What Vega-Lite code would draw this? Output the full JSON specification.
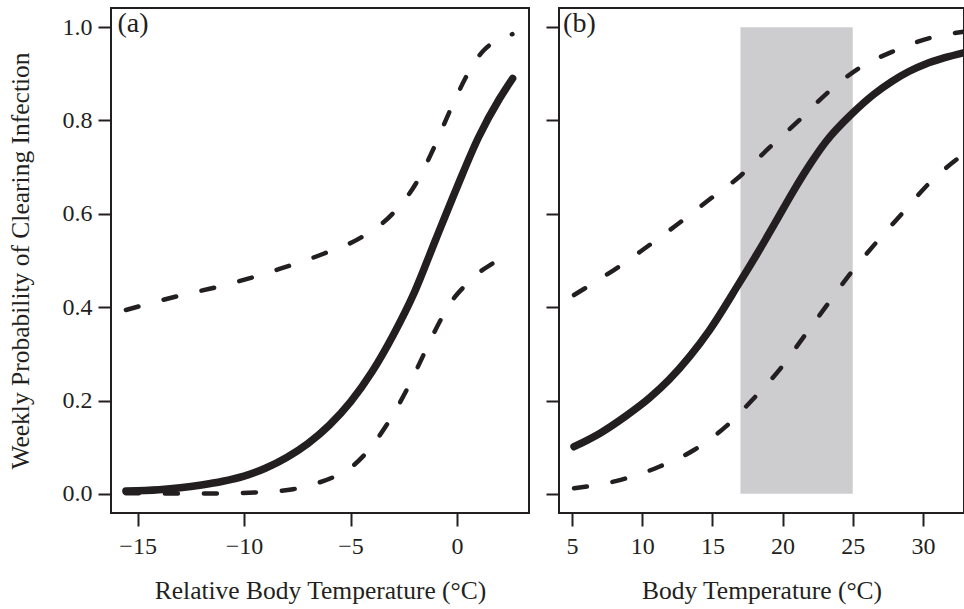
{
  "$schema": "https://vega.github.io/schema/vega-lite/v6.json",
  "background": "white",
  "padding": {"left": 7, "top": 7, "right": 0, "bottom": 0},
  "config": {
    "font": "Liberation Serif",
    "view": {"stroke": "#231f20", "strokeWidth": 2},
    "axis": {
      "domain": false,
      "grid": false,
      "tickSize": 13,
      "tickWidth": 2,
      "tickColor": "#231f20",
      "labelFont": "Liberation Serif",
      "labelFontSize": 24,
      "labelColor": "#231f20",
      "titleFont": "Liberation Serif",
      "titleFontSize": 25.5,
      "titleFontWeight": "normal",
      "titleColor": "#231f20"
    }
  },
  "datasets": {
    "curves": [
      {"panel": "a", "series": "fit", "x": -15.55, "y": 0.006},
      {"panel": "a", "series": "fit", "x": -14, "y": 0.009},
      {"panel": "a", "series": "fit", "x": -13, "y": 0.013},
      {"panel": "a", "series": "fit", "x": -12, "y": 0.019},
      {"panel": "a", "series": "fit", "x": -11, "y": 0.027},
      {"panel": "a", "series": "fit", "x": -10, "y": 0.038},
      {"panel": "a", "series": "fit", "x": -9, "y": 0.055},
      {"panel": "a", "series": "fit", "x": -8, "y": 0.078},
      {"panel": "a", "series": "fit", "x": -7, "y": 0.108},
      {"panel": "a", "series": "fit", "x": -6, "y": 0.147},
      {"panel": "a", "series": "fit", "x": -5, "y": 0.197},
      {"panel": "a", "series": "fit", "x": -4, "y": 0.261},
      {"panel": "a", "series": "fit", "x": -3, "y": 0.34},
      {"panel": "a", "series": "fit", "x": -2, "y": 0.432},
      {"panel": "a", "series": "fit", "x": -1, "y": 0.545},
      {"panel": "a", "series": "fit", "x": 0, "y": 0.657},
      {"panel": "a", "series": "fit", "x": 1, "y": 0.763},
      {"panel": "a", "series": "fit", "x": 2, "y": 0.847},
      {"panel": "a", "series": "fit", "x": 2.61, "y": 0.89},

      {"panel": "a", "series": "upper", "x": -15.55, "y": 0.394},
      {"panel": "a", "series": "upper", "x": -13, "y": 0.425},
      {"panel": "a", "series": "upper", "x": -11.1, "y": 0.445},
      {"panel": "a", "series": "upper", "x": -8.4, "y": 0.481},
      {"panel": "a", "series": "upper", "x": -6.24, "y": 0.515},
      {"panel": "a", "series": "upper", "x": -4.52, "y": 0.549},
      {"panel": "a", "series": "upper", "x": -3.03, "y": 0.6},
      {"panel": "a", "series": "upper", "x": -1.93, "y": 0.665},
      {"panel": "a", "series": "upper", "x": -1.08, "y": 0.742},
      {"panel": "a", "series": "upper", "x": -0.34, "y": 0.82},
      {"panel": "a", "series": "upper", "x": 0.41, "y": 0.892},
      {"panel": "a", "series": "upper", "x": 0.85, "y": 0.927},
      {"panel": "a", "series": "upper", "x": 1.27, "y": 0.951},
      {"panel": "a", "series": "upper", "x": 1.9, "y": 0.972},
      {"panel": "a", "series": "upper", "x": 2.6, "y": 0.985},

      {"panel": "a", "series": "lower", "x": -15.55, "y": 0.0015},
      {"panel": "a", "series": "lower", "x": -13.5, "y": 0.001},
      {"panel": "a", "series": "lower", "x": -11.5, "y": 0.001},
      {"panel": "a", "series": "lower", "x": -9.5, "y": 0.003},
      {"panel": "a", "series": "lower", "x": -7.7, "y": 0.01},
      {"panel": "a", "series": "lower", "x": -6.8, "y": 0.02},
      {"panel": "a", "series": "lower", "x": -5.9, "y": 0.034},
      {"panel": "a", "series": "lower", "x": -5, "y": 0.056},
      {"panel": "a", "series": "lower", "x": -4.36, "y": 0.083},
      {"panel": "a", "series": "lower", "x": -3.3, "y": 0.148},
      {"panel": "a", "series": "lower", "x": -2.36, "y": 0.223},
      {"panel": "a", "series": "lower", "x": -1.54, "y": 0.301},
      {"panel": "a", "series": "lower", "x": -0.73, "y": 0.376},
      {"panel": "a", "series": "lower", "x": -0.2, "y": 0.416},
      {"panel": "a", "series": "lower", "x": 0.33, "y": 0.444},
      {"panel": "a", "series": "lower", "x": 1.0, "y": 0.473},
      {"panel": "a", "series": "lower", "x": 1.79, "y": 0.497},
      {"panel": "a", "series": "lower", "x": 2.6, "y": 0.52},

      {"panel": "b", "series": "fit", "x": 5.14, "y": 0.101},
      {"panel": "b", "series": "fit", "x": 7, "y": 0.13},
      {"panel": "b", "series": "fit", "x": 8.8, "y": 0.166},
      {"panel": "b", "series": "fit", "x": 10.5, "y": 0.205},
      {"panel": "b", "series": "fit", "x": 11.9, "y": 0.244},
      {"panel": "b", "series": "fit", "x": 13.4, "y": 0.295},
      {"panel": "b", "series": "fit", "x": 14.8, "y": 0.351},
      {"panel": "b", "series": "fit", "x": 16.9, "y": 0.451},
      {"panel": "b", "series": "fit", "x": 18.2, "y": 0.515},
      {"panel": "b", "series": "fit", "x": 19.5, "y": 0.582},
      {"panel": "b", "series": "fit", "x": 20.7, "y": 0.645},
      {"panel": "b", "series": "fit", "x": 22, "y": 0.708},
      {"panel": "b", "series": "fit", "x": 23.1, "y": 0.755},
      {"panel": "b", "series": "fit", "x": 25, "y": 0.816},
      {"panel": "b", "series": "fit", "x": 26.5, "y": 0.856},
      {"panel": "b", "series": "fit", "x": 27.8, "y": 0.884},
      {"panel": "b", "series": "fit", "x": 29, "y": 0.905},
      {"panel": "b", "series": "fit", "x": 30.2, "y": 0.921},
      {"panel": "b", "series": "fit", "x": 31.5, "y": 0.934},
      {"panel": "b", "series": "fit", "x": 32.9, "y": 0.945},

      {"panel": "b", "series": "upper", "x": 5.14, "y": 0.426},
      {"panel": "b", "series": "upper", "x": 6.7, "y": 0.455},
      {"panel": "b", "series": "upper", "x": 8.35, "y": 0.487},
      {"panel": "b", "series": "upper", "x": 10, "y": 0.522},
      {"panel": "b", "series": "upper", "x": 12.4, "y": 0.575},
      {"panel": "b", "series": "upper", "x": 14.76, "y": 0.63},
      {"panel": "b", "series": "upper", "x": 16.9, "y": 0.679},
      {"panel": "b", "series": "upper", "x": 19, "y": 0.74},
      {"panel": "b", "series": "upper", "x": 21.17, "y": 0.8},
      {"panel": "b", "series": "upper", "x": 23.3, "y": 0.862},
      {"panel": "b", "series": "upper", "x": 25.44, "y": 0.912},
      {"panel": "b", "series": "upper", "x": 27.8, "y": 0.947},
      {"panel": "b", "series": "upper", "x": 30.66, "y": 0.978},
      {"panel": "b", "series": "upper", "x": 32.9, "y": 0.99},

      {"panel": "b", "series": "lower", "x": 5.14, "y": 0.012},
      {"panel": "b", "series": "lower", "x": 8.47, "y": 0.03},
      {"panel": "b", "series": "lower", "x": 11.2, "y": 0.058},
      {"panel": "b", "series": "lower", "x": 13.69, "y": 0.094},
      {"panel": "b", "series": "lower", "x": 15.95, "y": 0.144},
      {"panel": "b", "series": "lower", "x": 17.96, "y": 0.205},
      {"panel": "b", "series": "lower", "x": 19.86, "y": 0.269},
      {"panel": "b", "series": "lower", "x": 21.52, "y": 0.337},
      {"panel": "b", "series": "lower", "x": 23.18, "y": 0.405},
      {"panel": "b", "series": "lower", "x": 24.85, "y": 0.473},
      {"panel": "b", "series": "lower", "x": 26.63, "y": 0.537},
      {"panel": "b", "series": "lower", "x": 28.53, "y": 0.601},
      {"panel": "b", "series": "lower", "x": 30.43, "y": 0.665},
      {"panel": "b", "series": "lower", "x": 32.9, "y": 0.728}
    ],
    "band": [{"x": 17, "x2": 25, "y": 0, "y2": 1}],
    "labels": [
      {"panel": "a", "x": -15.95, "y": 1.036, "text": "(a)"},
      {"panel": "b", "x": 4.36, "y": 1.036, "text": "(b)"}
    ]
  },
  "bounds": "flush",
  "spacing": 30,
  "hconcat": [
    {
      "width": 418,
      "height": 505,
      "layer": [
        {
          "data": {"name": "curves"},
          "transform": [{"filter": "datum.panel === 'a' && datum.series !== 'fit'"}],
          "mark": {"type": "line", "color": "#231f20", "strokeWidth": 4.5, "strokeDash": [13, 26], "strokeCap": "round", "interpolate": "monotone", "clip": true},
          "encoding": {
            "x": {"field": "x", "type": "quantitative", "scale": {"domain": [-16.25, 3.38], "nice": false, "zero": false},
                  "axis": {"values": [-15, -10, -5, 0], "title": "Relative Body Temperature (°C)", "labelPadding": 8, "titlePadding": 20}},
            "y": {"field": "y", "type": "quantitative", "scale": {"domain": [-0.041, 1.041], "nice": false, "zero": false},
                  "axis": {"values": [0, 0.2, 0.4, 0.6, 0.8, 1.0], "format": ".1f", "title": "Weekly Probability of Clearing Infection", "labelPadding": 6, "titlePadding": 28.5}},
            "detail": {"field": "series"},
            "order": {"field": "x", "type": "quantitative"}
          }
        },
        {
          "data": {"name": "curves"},
          "transform": [{"filter": "datum.panel === 'a' && datum.series === 'fit'"}],
          "mark": {"type": "line", "color": "#231f20", "strokeWidth": 7.5, "strokeCap": "round", "interpolate": "monotone", "clip": true},
          "encoding": {
            "x": {"field": "x", "type": "quantitative"},
            "y": {"field": "y", "type": "quantitative"},
            "order": {"field": "x", "type": "quantitative"}
          }
        },
        {
          "data": {"name": "labels"},
          "transform": [{"filter": "datum.panel === 'a'"}],
          "mark": {"type": "text", "align": "left", "baseline": "top", "fontSize": 28, "font": "Liberation Serif", "color": "#231f20"},
          "encoding": {
            "x": {"field": "x", "type": "quantitative"},
            "y": {"field": "y", "type": "quantitative"},
            "text": {"field": "text"}
          }
        }
      ]
    },
    {
      "width": 405,
      "height": 505,
      "layer": [
        {
          "data": {"name": "band"},
          "mark": {"type": "rect", "color": "#cdcdcf"},
          "encoding": {
            "x": {"field": "x", "type": "quantitative", "scale": {"domain": [4.07, 32.93], "nice": false, "zero": false},
                  "axis": {"values": [5, 10, 15, 20, 25, 30], "title": "Body Temperature (°C)", "labelPadding": 8, "titlePadding": 20}},
            "x2": {"field": "x2"},
            "y": {"field": "y", "type": "quantitative", "scale": {"domain": [-0.041, 1.041], "nice": false, "zero": false},
                  "axis": {"values": [0, 0.2, 0.4, 0.6, 0.8, 1.0], "labels": false, "title": null}},
            "y2": {"field": "y2"}
          }
        },
        {
          "data": {"name": "curves"},
          "transform": [{"filter": "datum.panel === 'b' && datum.series !== 'fit'"}],
          "mark": {"type": "line", "color": "#231f20", "strokeWidth": 4.5, "strokeDash": [13, 26], "strokeCap": "round", "interpolate": "monotone", "clip": true},
          "encoding": {
            "x": {"field": "x", "type": "quantitative"},
            "y": {"field": "y", "type": "quantitative"},
            "detail": {"field": "series"},
            "order": {"field": "x", "type": "quantitative"}
          }
        },
        {
          "data": {"name": "curves"},
          "transform": [{"filter": "datum.panel === 'b' && datum.series === 'fit'"}],
          "mark": {"type": "line", "color": "#231f20", "strokeWidth": 7.5, "strokeCap": "round", "interpolate": "monotone", "clip": true},
          "encoding": {
            "x": {"field": "x", "type": "quantitative"},
            "y": {"field": "y", "type": "quantitative"},
            "order": {"field": "x", "type": "quantitative"}
          }
        },
        {
          "data": {"name": "labels"},
          "transform": [{"filter": "datum.panel === 'b'"}],
          "mark": {"type": "text", "align": "left", "baseline": "top", "fontSize": 28, "font": "Liberation Serif", "color": "#231f20"},
          "encoding": {
            "x": {"field": "x", "type": "quantitative"},
            "y": {"field": "y", "type": "quantitative"},
            "text": {"field": "text"}
          }
        }
      ]
    }
  ]
}
